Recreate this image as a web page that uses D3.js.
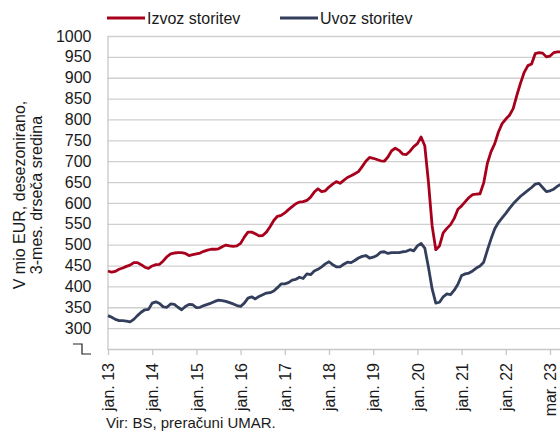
<!DOCTYPE html>
<html>
<head>
<meta charset="utf-8">
<script src="https://cdn.jsdelivr.net/npm/d3@7"></script>
<style>
  html, body { margin: 0; padding: 0; background: #fff; }
  svg { display: block; font-family: "Liberation Sans", Arial, sans-serif; }
</style>
</head>
<body>
<script>
// mesečni podatki, jan. 2013 - apr. 2023 (v mio EUR)
const izvoz = [
  437, 434, 436, 441, 444, 448, 451, 457, 457, 452, 446, 443,
  449, 452, 453, 461, 471, 478, 480, 481, 481, 479, 474, 476,
  478, 480, 484, 487, 489, 489, 490, 495, 499, 497, 496, 497,
  503, 518, 530, 530, 526, 521, 522, 530, 543, 558, 568, 570,
  576, 584, 591, 598, 602, 603, 606, 614, 626, 634, 627, 629,
  638, 645, 651, 647, 654, 661, 665, 670, 675, 687, 700, 709,
  707, 704, 701, 700, 710, 725, 731, 726, 717, 716, 724, 735,
  742, 758, 737, 650, 545, 488, 497, 528, 539, 548, 563, 585,
  593, 603, 613, 620, 621, 622, 648, 695, 723, 742, 770, 790,
  801, 810, 826, 858, 887, 913, 929, 933, 958, 960, 959, 950,
  952, 960, 962, 962
];
const uvoz = [
  330, 326, 321, 318, 318, 317, 315, 321, 330, 338, 344, 345,
  360, 363, 359, 351, 350, 358, 357, 350, 344, 352, 357, 356,
  349, 350, 354, 357, 360, 364, 367, 366, 364, 361, 358, 354,
  352, 360, 372, 375, 370, 376, 380, 384, 385, 389, 397, 406,
  406, 409, 415, 417, 422, 419, 430, 428, 437, 441, 447, 454,
  459, 452, 447, 447, 453, 458, 457, 462, 468, 472, 474, 468,
  470, 474, 482, 483, 479, 481, 481, 481, 483, 484, 488, 485,
  497, 503, 492, 446, 394, 360, 362, 375, 382, 380, 391, 405,
  426, 430, 432, 437, 444, 449, 458, 487, 514, 538, 553, 564,
  575, 587, 598, 607, 616, 623, 630, 637, 645, 647, 637, 627,
  629, 633, 640, 645
];
const tickIdx = [0, 12, 24, 36, 48, 60, 72, 84, 96, 108, 120];
const tickLabels = ["jan. 13", "jan. 14", "jan. 15", "jan. 16", "jan. 17", "jan. 18",
  "jan. 19", "jan. 20", "jan. 21", "jan. 22", "mar. 23"];
const yTicks = [300, 350, 400, 450, 500, 550, 600, 650, 700, 750, 800, 850, 900, 950, 1000];
const seriesNames = ["Izvoz storitev", "Uvoz storitev"];
const colors = ["#a8001c", "#323e5b"];

const W = 560, H = 435;
const plotLeft = 107.5, plotTop = 36, plotBottom = 349;

const svg = d3.select("body").append("svg")
  .attr("width", W).attr("height", H);

const x = d3.scaleLinear().domain([0, 120]).range([108, 550]);
const y = d3.scaleLinear().domain([250, 1000]).range([plotBottom, plotTop]);

// mreža
svg.append("g")
  .attr("transform", `translate(${plotLeft},0)`)
  .call(d3.axisRight(y).tickValues(yTicks).tickSize(W - plotLeft).tickFormat(""))
  .call(g => g.select(".domain").remove())
  .call(g => g.selectAll("line").attr("stroke", "#cfcfcf").attr("stroke-width", 1.3));

// y os
svg.append("g")
  .attr("transform", `translate(${plotLeft},0)`)
  .call(d3.axisLeft(y).tickValues(yTicks).tickSize(0).tickPadding(16).tickFormat(d3.format("d")))
  .call(g => g.select(".domain").attr("stroke", "#c8c8c8").attr("stroke-width", 1.3))
  .call(g => g.selectAll("text").attr("font-size", 16).attr("fill", "#1a1a1a")
    .attr("font-family", "Liberation Sans, Arial, sans-serif"));

// prelom osi
svg.append("path")
  .attr("d", "M73,344H82V354H91")
  .attr("fill", "none").attr("stroke", "#222").attr("stroke-width", 1.2);

// x os
const xAxis = svg.append("g")
  .attr("transform", `translate(0,${plotBottom})`)
  .call(d3.axisBottom(x).tickValues(tickIdx).tickSize(6).tickPadding(8)
    .tickFormat((d, i) => tickLabels[i]));
xAxis.select(".domain").attr("d", `M${plotLeft},0.5H${W}`).attr("stroke", "#c8c8c8").attr("stroke-width", 1.3);
xAxis.selectAll("line").attr("stroke", "#c8c8c8").attr("stroke-width", 1.3);
xAxis.selectAll("text")
  .attr("font-size", 16).attr("fill", "#1a1a1a")
  .attr("font-family", "Liberation Sans, Arial, sans-serif")
  .attr("text-anchor", "end")
  .attr("transform", "rotate(-90)")
  .attr("x", -14).attr("y", 0).attr("dy", "0.35em");

// črte
const line = d3.line().x((d, i) => x(i)).y(d => y(d));
[izvoz, uvoz].forEach((s, k) => {
  svg.append("path")
    .datum(s)
    .attr("fill", "none")
    .attr("stroke", colors[k])
    .attr("stroke-width", 2.8)
    .attr("stroke-linejoin", "round")
    .attr("d", line);
});

// legenda
const legendX = [107, 280];
seriesNames.forEach((n, k) => {
  svg.append("line")
    .attr("x1", legendX[k]).attr("x2", legendX[k] + 38)
    .attr("y1", 18).attr("y2", 18)
    .attr("stroke", colors[k]).attr("stroke-width", 2.8);
  svg.append("text")
    .attr("x", legendX[k] + 40).attr("y", 23.5)
    .attr("font-size", 16).attr("fill", "#1a1a1a")
    .text(n);
});

// naslov osi y
const yTitle = svg.append("text")
  .attr("transform", "translate(25,195) rotate(-90)")
  .attr("text-anchor", "middle")
  .attr("font-size", 16).attr("fill", "#1a1a1a");
yTitle.append("tspan").attr("x", 0).attr("y", 0).text("V mio EUR, desezonirano,");
yTitle.append("tspan").attr("x", 0).attr("y", 17).text("3-mes. drseča sredina");

// vir
svg.append("text")
  .attr("x", 106).attr("y", 428)
  .attr("font-size", 15).attr("fill", "#1a1a1a")
  .text("Vir: BS, preračuni UMAR.");
</script>
</body>
</html>
